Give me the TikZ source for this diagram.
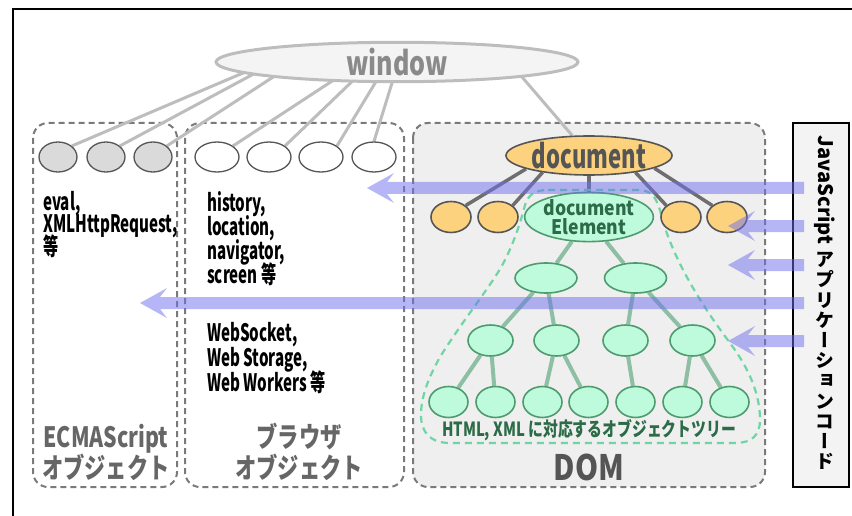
\documentclass[tikz,border=0pt]{standalone}
\usepackage{fontspec}
\setmainfont{Noto Sans CJK JP}
\newfontfamily\bodyfont{Noto Sans CJK JP}[FakeStretch=0.63]
\newfontfamily\labelfont{Noto Sans CJK JP}[FakeStretch=0.76]
\newfontfamily\docfont{Noto Sans CJK JP}[FakeStretch=0.67]
\newfontfamily\elemfont{Noto Sans CJK JP}[FakeStretch=0.88]
\newfontfamily\domfont{Noto Sans CJK JP}[FakeStretch=0.84]
\newfontfamily\vf{Noto Sans CJK JP}[RawFeature=+vert]
\newcommand\tightlines{\lineskiplimit=-30pt\relax}
\usetikzlibrary{shapes.geometric,calc}
\pgfdeclarelayer{back}
\pgfdeclarelayer{links}
\pgfsetlayers{back,links,main}

\definecolor{winfill}{HTML}{F4F4F4}
\definecolor{winline}{HTML}{BDBDBD}
\definecolor{wintext}{HTML}{8A8A8A}
\definecolor{darkline}{HTML}{555555}
\definecolor{objgray}{HTML}{DADADA}
\definecolor{boxdash}{HTML}{7A7A7A}
\definecolor{domfill}{HTML}{EFEFEF}
\definecolor{docfill}{HTML}{FDD27E}
\definecolor{doclink}{HTML}{6E6E6E}
\definecolor{mint}{HTML}{BDFBDC}
\definecolor{mintline}{HTML}{4E9C6E}
\definecolor{minttext}{HTML}{2B6B47}
\definecolor{treelink}{HTML}{8DBFA4}
\definecolor{treedash}{HTML}{6ED6A4}
\definecolor{jsblue}{HTML}{6E6EF0}
\definecolor{labelgray}{HTML}{666666}
\definecolor{jsfill}{HTML}{F3F3F3}

% left-pointing translucent block arrow from tail coordinate #1 to tip coordinate #2
\newcommand\jsarrow[2]{%
  \fill[jsarrowfill] (#2) -- ($(#2)+(27,-15)$) -- ($(#2)+(20,-6)$) -- ($(#1)+(0,-6)$)
    -- ($(#1)+(0,6)$) -- ($(#2)+(20,6)$) -- ($(#2)+(27,15)$) -- cycle;}

\begin{document}
\begin{tikzpicture}[x=1pt,y=-1pt,
  groupbox/.style={draw=boxdash,line width=2pt,dash pattern=on 6pt off 4pt,rounded corners=15pt},
  winlink/.style={draw=winline,line width=3pt},
  doclinkstyle/.style={draw=doclink,line width=3.5pt},
  treelinkstyle/.style={draw=treelink,line width=4pt},
  ecmaobj/.style={ellipse,draw=darkline,line width=1.3pt,fill=objgray,inner sep=0pt,minimum width=38pt,minimum height=30pt},
  brobj/.style={ellipse,draw=darkline,line width=1.3pt,fill=white,inner sep=0pt,minimum width=44pt,minimum height=30pt},
  docobj/.style={ellipse,draw=darkline,line width=1.6pt,fill=docfill,inner sep=0pt,minimum width=40pt,minimum height=31pt},
  tnode/.style={ellipse,draw=mintline,line width=1.6pt,fill=mint,inner sep=0pt},
  lv2/.style={tnode,minimum width=62pt,minimum height=30pt},
  lv3/.style={tnode,minimum width=45pt,minimum height=31pt},
  lv4/.style={tnode,minimum width=39pt,minimum height=31pt},
  bodytext/.style={align=left,inner sep=0pt,text=black},
  grouplabel/.style={align=center,inner sep=0pt,font=\labelfont\bfseries\fontsize{28}{31}\selectfont,text=labelgray},
  jsarrowfill/.style={fill=jsblue,fill opacity=0.5}]

\useasboundingbox (0,0) rectangle (852,516);

% frame
\draw[line width=1.5pt] (852,9) -- (13,9) -- (13,516);

% group boxes
\begin{pgfonlayer}{back}
\draw[groupbox] (33,123) rectangle (177,487);
\draw[groupbox] (185,123) rectangle (404,487);
\draw[groupbox,fill=domfill] (413,123) rectangle (765,487);
\end{pgfonlayer}

% objects of the ECMAScript and browser groups
\node[ecmaobj] (e1) at (58,157) {};
\node[ecmaobj] (e2) at (106,157) {};
\node[ecmaobj] (e3) at (153,157) {};
\node[brobj] (b1) at (217,157) {};
\node[brobj] (b2) at (269,157) {};
\node[brobj] (b3) at (321,157) {};
\node[brobj] (b4) at (374,157) {};

% DOM nodes
\node[docobj,minimum width=166pt,minimum height=39pt,font=\docfont\bfseries\fontsize{33}{33}\selectfont,text=darkline] (doc) at (589,155.5) {document};
\node[docobj] (o1) at (451,217) {};
\node[docobj] (o2) at (498,217) {};
\node[docobj] (o3) at (681,217) {};
\node[docobj] (o4) at (727,217) {};
\node[tnode,minimum width=112pt,minimum height=38pt,align=center,font=\elemfont\bfseries\fontsize{20}{18.5}\selectfont,text=minttext] (de) at (589,217) {document\\Element};

% window and its links
\coordinate (w1) at (250,70);
\coordinate (w2) at (261,70);
\coordinate (w3) at (284,70);
\coordinate (w4) at (349,70);
\coordinate (w5) at (364,70);
\coordinate (w6) at (383,70);
\coordinate (w7) at (396,70);
\coordinate (w8) at (516,70);
\node[ellipse,draw=winline,line width=3pt,fill=winfill,inner sep=0pt,minimum width=362pt,minimum height=38pt,
  font=\labelfont\bfseries\fontsize{33}{33}\selectfont,text=wintext] (win) at (397,62) {window};

% object tree
\node[lv2] (m1) at (546,278) {};
\node[lv2] (m2) at (635.5,278) {};
\node[lv3] (n1) at (490.5,340.5) {};
\node[lv3] (n2) at (556.5,340.5) {};
\node[lv3] (n3) at (625.5,340.5) {};
\node[lv3] (n4) at (692.5,340.5) {};
\node[lv4] (p1) at (448.5,402) {};
\node[lv4] (p2) at (495.5,402) {};
\node[lv4] (p3) at (542.5,402) {};
\node[lv4] (p4) at (588.5,402) {};
\node[lv4] (p5) at (635.5,402) {};
\node[lv4] (p6) at (682.5,402) {};
\node[lv4] (p7) at (729.5,402) {};

\begin{pgfonlayer}{links}
\draw[winlink] (w1) -- (e1.north east);
\draw[winlink] (w2) -- (e2.north east);
\draw[winlink] (w3) -- (e3.north east);
\draw[winlink] (w4) -- (b1.north east);
\draw[winlink] (w5) -- (b2.north east);
\draw[winlink] (w6) -- (b3.north east);
\draw[winlink] (w7) -- (b4.north);
\draw[winlink] (w8) -- (doc.130);
% document children
\draw[doclinkstyle] (doc.192) -- (o1.north east);
\draw[doclinkstyle] (doc.200) -- (o2.north east);
\draw[doclinkstyle] (doc.340) -- (o3.north west);
\draw[doclinkstyle] (doc.349) -- (o4.north west);
\draw[doclinkstyle] (doc.south) -- (de.north);
% outline of the object tree
\draw[treedash,line width=2.2pt,dash pattern=on 7pt off 5pt]
  (548,190) -- (636,190) .. controls (652,190) and (655,196) .. (660,210)
  .. controls (668,245) and (690,290) .. (730,343)
  .. controls (750,370) and (760,395) .. (760,420)
  .. controls (760,435) and (752,443) .. (735,443) -- (450,443)
  .. controls (430,443) and (421,432) .. (421,415)
  .. controls (421,395) and (430,375) .. (440,357)
  .. controls (460,325) and (480,300) .. (495,277)
  .. controls (510,255) and (520,225) .. (525,205)
  .. controls (528,195) and (535,190) .. (548,190) -- cycle;
% tree edges
\draw[treelinkstyle] (de.235) -- (m1);
\draw[treelinkstyle] (de.305) -- (m2);
\draw[treelinkstyle] (m1) -- (n1);
\draw[treelinkstyle] (m1) -- (n2);
\draw[treelinkstyle] (m2) -- (n3);
\draw[treelinkstyle] (m2) -- (n4);
\draw[treelinkstyle] (n1) -- (p1);
\draw[treelinkstyle] (n1) -- (p2);
\draw[treelinkstyle] (n2) -- (p3);
\draw[treelinkstyle] (n2) -- (p4);
\draw[treelinkstyle] (n3) -- (p5);
\draw[treelinkstyle] (n4) -- (p6);
\draw[treelinkstyle] (n4) -- (p7);
\end{pgfonlayer}

\node[font=\labelfont\bfseries\fontsize{19.5}{19.5}\selectfont,text=minttext,inner sep=0pt] (treelabel) at (589,430) {HTML, XML に対応するオブジェクトツリー};
\node[font=\domfont\bfseries\fontsize{35}{35}\selectfont,text=darkline,inner sep=0pt] (domlabel) at (589,467) {DOM};

% member texts
\node[bodytext,anchor=north west,font=\bodyfont\bfseries\fontsize{24}{22.5}\selectfont\tightlines] (ecmatext) at (43,191) {eval,\\XMLHttpRequest,\\等};
\node[bodytext,anchor=north west,font=\bodyfont\bfseries\fontsize{24}{24}\selectfont\tightlines] (brtext1) at (207,191) {history,\\location,\\navigator,\\screen 等};
\node[bodytext,anchor=north west,font=\bodyfont\bfseries\fontsize{24}{25}\selectfont\tightlines] (brtext2) at (207,322) {WebSocket,\\Web Storage,\\Web Workers 等};

% group labels
\node[grouplabel] (ecmalabel) at (106,452) {ECMAScript\\オブジェクト};
\node[grouplabel] (brlabel) at (299,452) {ブラウザ\\オブジェクト};

% application code box
\node[draw=black,line width=1.2pt,fill=jsfill,minimum width=56pt,minimum height=364pt,inner sep=0pt] (js) at (821,305) {};
\node[rotate=-90,font=\bfseries\fontsize{20}{20}\selectfont,inner sep=0pt] (jsname) at (825,190) {JavaScript};
\node[align=center,font=\vf\bfseries\fontsize{19}{20.2}\selectfont,inner sep=0pt] (jskana) at (825,361) {ア\\プ\\リ\\ケ\\ー\\シ\\ョ\\ン\\コ\\ー\\ド};

% calls from the application code
\coordinate (a1s) at (804,188);  \coordinate (a1t) at (367,188);
\coordinate (a2s) at (804,226);  \coordinate (a2t) at (728,226);
\coordinate (a3s) at (804,265);  \coordinate (a3t) at (728,265);
\coordinate (a4s) at (804,303);  \coordinate (a4t) at (140,303);
\coordinate (a5s) at (804,341);  \coordinate (a5t) at (728,341);
\jsarrow{a1s}{a1t}
\jsarrow{a2s}{a2t}
\jsarrow{a3s}{a3t}
\jsarrow{a4s}{a4t}
\jsarrow{a5s}{a5t}
\end{tikzpicture}
\end{document}
